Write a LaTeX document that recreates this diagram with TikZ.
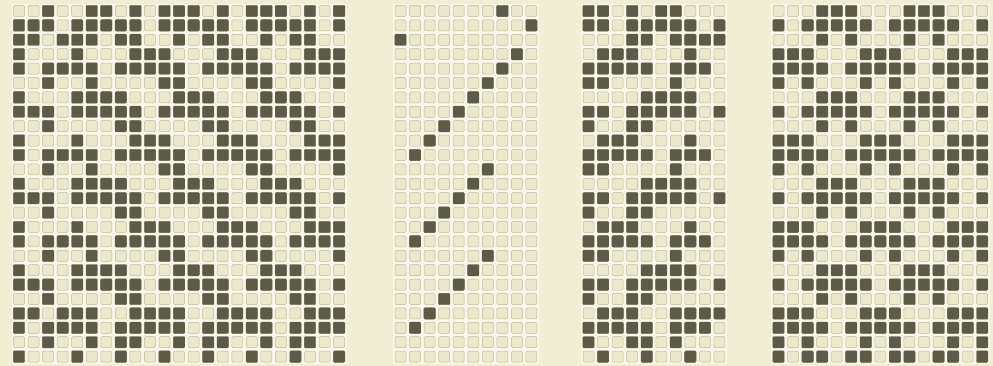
\documentclass[tikz,border=0pt]{standalone}
\usepackage{tikz}
\definecolor{bgcol}{HTML}{F2EED4}
\definecolor{gapcol}{HTML}{F9F7E8}
\definecolor{lightfill}{HTML}{ECE8CB}
\definecolor{lightedge}{HTML}{BDB9A0}
\definecolor{darkfill}{HTML}{5C5B46}
\tikzset{
  darkcell/.style={fill=darkfill, draw=darkfill, line width=0.4pt, rounded corners=1pt},
  lightcell/.style={fill=lightfill, draw=lightedge, line width=0.5pt, rounded corners=1.3pt},
  panelbg/.style={fill=gapcol, draw=none}
}
\newcommand\cellat[3]{%
  \pgfmathsetmacro\cx{#1}\pgfmathsetmacro\cy{#2}%
  \ifnum#3=1 \path[darkcell] (\cx-5.7,\cy-5.7) rectangle (\cx+5.7,\cy+5.7);%
  \else \path[lightcell] (\cx-5.5,\cy-5.5) rectangle (\cx+5.5,\cy+5.5);\fi}
\newcommand\crow[3]{%
  \edef\rowbits{#3}%
  \foreach \v [count=\c from 0] in \rowbits {\cellat{#1+\c*14.55}{11+#2*14.4}{\v}}}
% panel 1 rows
\def\PAz{0,0,1,0,0,1,1,0,1,0,1,1,1,0,1,0,1,1,1,0,1,0,1}
\def\PAa{1,1,1,0,1,1,1,1,1,0,1,1,1,1,1,0,1,1,1,1,1,0,1}
\def\PAb{1,1,0,1,1,1,0,1,1,0,0,1,0,1,1,0,0,1,0,1,1,0,0}
\def\PAc{1,0,0,0,1,0,0,0,1,1,1,0,0,0,1,1,1,0,0,0,1,1,1}
\def\PAd{1,0,1,1,1,1,0,1,1,1,1,1,0,1,1,1,1,1,0,1,1,1,1}
\def\PAe{0,0,1,0,0,1,0,0,0,0,1,1,0,0,0,0,1,1,0,0,0,0,1}
\def\PAf{1,0,0,0,1,1,1,1,0,0,0,1,1,1,0,0,0,1,1,1,0,0,0}
\def\PAh{0,0,1,0,0,0,0,1,1,0,0,0,0,1,1,0,0,0,0,1,1,0,0}
\def\PAu{1,1,0,1,1,1,0,0,1,1,1,1,0,0,1,1,1,1,0,0,1,1,1}
\def\PAw{0,0,1,0,0,1,0,1,1,0,0,1,0,1,1,0,0,1,0,1,1,0,0}
\def\PAx{1,0,0,0,1,0,0,1,0,0,1,0,0,1,0,0,1,0,0,1,0,0,1}
% panel 3 rows
\def\PCz{1,1,0,1,0,1,1,0,0,0}
\def\PCa{1,1,0,1,1,1,1,1,0,1}
\def\PCb{0,0,0,1,1,0,1,1,1,1}
\def\PCc{0,1,1,1,0,0,0,1,0,0}
\def\PCd{1,1,1,1,1,0,1,1,1,0}
\def\PCe{1,1,0,0,0,0,1,0,0,0}
\def\PCf{0,0,0,0,1,1,1,1,0,0}
\def\PCh{1,0,0,1,1,0,0,0,0,0}
\def\PCu{0,1,1,1,0,0,1,1,1,1}
\def\PCw{1,0,0,1,1,0,1,0,0,0}
\def\PCx{0,1,0,0,1,0,0,1,0,0}
% panel 4 rows
\def\PDa{0,0,0,1,1,1,0,0,0,1,1,1,0,0,0}
\def\PDb{1,0,1,1,1,1,1,0,1,1,1,1,1,0,1}
\def\PDc{0,0,0,1,0,1,0,0,0,1,0,1,0,0,0}
\def\PDd{1,1,1,0,0,0,1,1,1,0,0,0,1,1,1}
\def\PDe{1,1,1,1,0,1,1,1,1,1,0,1,1,1,1}
\def\PDf{1,0,1,0,0,0,1,0,1,0,0,0,1,0,1}
\def\PDx{1,0,1,1,0,1,1,0,1,1,0,1,1,0,1}
\begin{document}
\begin{tikzpicture}[x=1pt,y=-1pt]
\useasboundingbox (0,0) rectangle (993,366);
\fill[bgcol] (0,0) rectangle (993,366);
% panel backgrounds
\path[panelbg] (19-7.4,3.6) rectangle (19+22*14.55+7.4,11+24*14.4+7.4);
\path[panelbg] (400.5-7.4,3.6) rectangle (400.5+9*14.55+7.4,11+24*14.4+7.4);
\path[panelbg] (588.5-7.4,3.6) rectangle (588.5+9*14.55+7.4,11+24*14.4+7.4);
\path[panelbg] (778.5-7.4,3.6) rectangle (778.5+14*14.55+7.4,11+24*14.4+7.4);
% panel 1
\foreach \r/\nm in {0/PAz,1/PAa,2/PAb,3/PAc,4/PAd,5/PAe,6/PAf,7/PAa,8/PAh,9/PAc,10/PAd,11/PAe,12/PAf,13/PAa,14/PAh,15/PAc,16/PAd,17/PAe,18/PAf,19/PAa,20/PAh,21/PAu,22/PAd,23/PAw,24/PAx}{%
  \crow{19}{\r}{\csname\nm\endcsname}}
% panel 2
\foreach \r/\p in {0/7,1/9,2/0,3/8,4/7,5/6,6/5,7/4,8/3,9/2,10/1,11/6,12/5,13/4,14/3,15/2,16/1,17/6,18/5,19/4,20/3,21/2,22/1,23/-1,24/-1}{%
  \foreach \c in {0,...,9}{%
    \ifnum\c=\p \cellat{400.5+\c*14.55}{11+\r*14.4}{1}\else\cellat{400.5+\c*14.55}{11+\r*14.4}{0}\fi}}
% panel 3
\foreach \r/\nm in {0/PCz,1/PCa,2/PCb,3/PCc,4/PCd,5/PCe,6/PCf,7/PCa,8/PCh,9/PCc,10/PCd,11/PCe,12/PCf,13/PCa,14/PCh,15/PCc,16/PCd,17/PCe,18/PCf,19/PCa,20/PCh,21/PCu,22/PCd,23/PCw,24/PCx}{%
  \crow{588.5}{\r}{\csname\nm\endcsname}}
% panel 4
\foreach \r/\nm in {0/PDa,1/PDb,2/PDc,3/PDd,4/PDe,5/PDf,6/PDa,7/PDb,8/PDc,9/PDd,10/PDe,11/PDf,12/PDa,13/PDb,14/PDc,15/PDd,16/PDe,17/PDf,18/PDa,19/PDb,20/PDc,21/PDd,22/PDe,23/PDf,24/PDx}{%
  \crow{778.5}{\r}{\csname\nm\endcsname}}
\end{tikzpicture}
\end{document}
